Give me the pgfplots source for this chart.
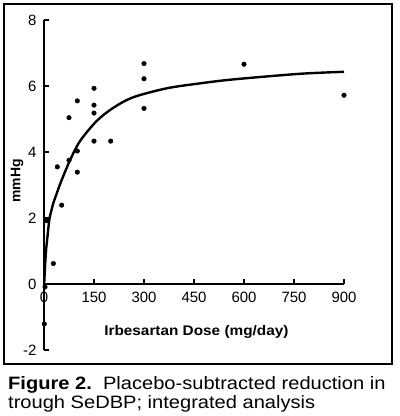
\documentclass[border=0pt]{standalone}
\usepackage{pgfplots}
\pgfplotsset{compat=1.18}
\usepackage{fontspec}
\setmainfont{Liberation Sans}

\begin{document}
\begin{tikzpicture}[x=1bp,y=1bp]
\path[use as bounding box] (0,0) rectangle (400,-416);
\draw[line width=2.2bp] (4,-4) rectangle (392,-364);

\begin{axis}[at={(44bp,-284bp)}, anchor=origin,
    scale only axis, width=300bp, height=330bp,
    xmin=0, xmax=900, ymin=-2, ymax=8,
    axis x line=middle, axis y line=left,
    axis line style={-, line width=2.2bp},
    hide obscured x ticks=false, hide obscured y ticks=false,
    xtick={0,150,...,900}, ytick={-2,0,...,8},
    tick align=inside, major tick length=5bp,
    tick style={line width=1.8bp, black},
    ticklabel style={font=\fontsize{15}{15}\selectfont},
    /pgf/number format/assume math mode=true,
    yticklabel style={xshift=-4bp},
    xticklabel style={yshift=-5bp},
    xlabel={\scalebox{1.1}[1]{Irbesartan Dose (mg/day)}}, ylabel={mmHg},
    label style={font=\fontsize{14}{14}\selectfont\bfseries},
    x label style={at={(axis description cs:0.508,0.0545)}, anchor=center},
    y label style={at={(axis description cs:-0.09,0.512)}, anchor=center, rotate=0},
    clip=false]
\addplot[only marks, mark=*, mark size=2.3bp, black] coordinates {
(3,-0.09) (1,-1.21) (8,1.92) (28,0.62) (53,2.39) (40,3.55) (75,3.75)
(75,5.04) (100,5.55) (100,4.03) (100,3.39) (150,5.93) (150,5.42)
(150,5.18) (150,4.33) (200,4.33) (300,6.68) (300,6.22) (300,5.32)
(600,6.66) (900,5.72)
};
\addplot[black, line width=2.4bp, smooth] coordinates {
(0.5,0) (3,0.5) (6,1.0) (10,1.4) (16,1.95) (22,2.22) (28,2.45)
(43,2.88) (53,3.15) (78,3.75) (108,4.33) (158,4.94) (208,5.34)
(268,5.66) (368,5.93) (468,6.08) (568,6.2) (768,6.37) (900,6.43)
};
\end{axis}

\node[anchor=base west, inner sep=0, font=\fontsize{18}{20}\selectfont] at (8,-389)
  {\scalebox{1.12}[1]{\textbf{Figure 2.}\ \ Placebo-subtracted reduction in}};
\node[anchor=base west, inner sep=0, font=\fontsize{18}{20}\selectfont] at (8,-408)
  {\scalebox{1.12}[1]{trough SeDBP; integrated analysis}};
\end{tikzpicture}
\end{document}
